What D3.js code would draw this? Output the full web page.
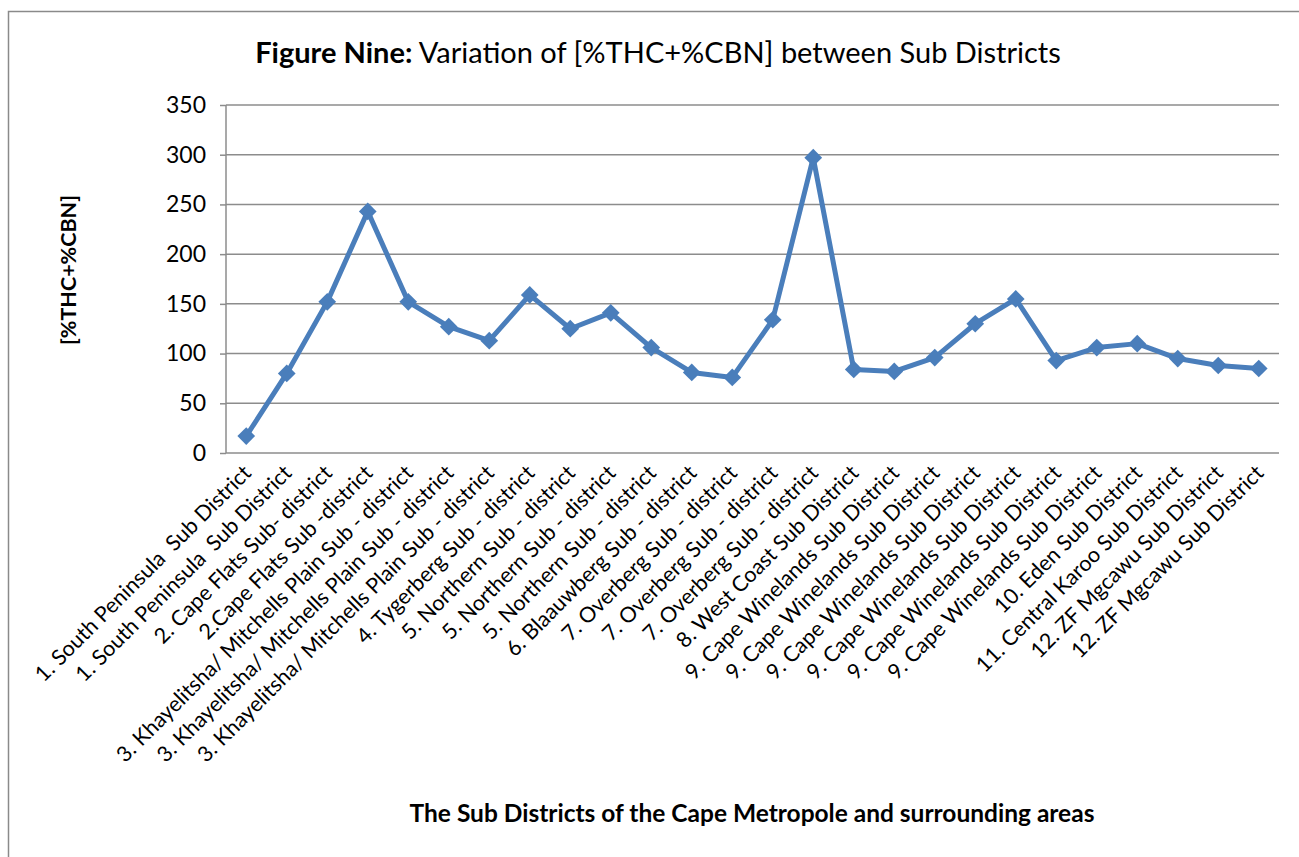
<!DOCTYPE html>
<html>
<head>
<meta charset="utf-8">
<script src="https://cdnjs.cloudflare.com/ajax/libs/d3/7.8.5/d3.min.js"></script>
<style>
  body { margin: 0; background: #fff; }
  svg { display: block; font-family: Lato, "Open Sans", sans-serif; }
</style>
</head>
<body>
<svg id="chart" width="1299" height="857"></svg>
<script>
'use strict';

// sub districts (x categories)
const districts = [
    "1. South Peninsula\u00a0 Sub District",
    "1. South Peninsula\u00a0 Sub District",
    "2. Cape Flats Sub- district",
    "2.Cape Flats Sub -district",
    "3. Khayelitsha/ Mitchells Plain Sub - district",
    "3. Khayelitsha/ Mitchells Plain Sub - district",
    "3. Khayelitsha/ Mitchells Plain Sub - district",
    "4. Tygerberg Sub - district",
    "5. Northern Sub - district",
    "5. Northern Sub - district",
    "5. Northern Sub - district",
    "6. Blaauwberg Sub - district",
    "7. Overberg Sub - district",
    "7. Overberg Sub - district",
    "7. Overberg Sub - district",
    "8. West Coast Sub District",
    "9. Cape Winelands Sub District",
    "9. Cape Winelands Sub District",
    "9. Cape Winelands Sub District",
    "9. Cape Winelands Sub District",
    "9. Cape Winelands Sub District",
    "9. Cape Winelands Sub District",
    "10. Eden Sub District",
    "11. Central Karoo Sub District",
    "12. ZF Mgcawu Sub District",
    "12. ZF Mgcawu Sub District"
];

// [%THC+%CBN] per sample
const values = [17, 80, 152, 243, 152, 127, 113, 159, 125, 141, 106, 81, 76,
                134, 297, 84, 82, 96, 130, 155, 93, 106, 110, 95, 88, 85];

const yTicks = [0, 50, 100, 150, 200, 250, 300, 350];

const titleBold = "Figure Nine:";
const titleRest = " Variation of [%THC+%CBN] between Sub Districts";
const yTitle = "[%THC+%CBN]";
const xTitle = "The Sub Districts of the Cape Metropole and surrounding areas";

(function () {
    const svg = d3.select("#chart");
    const blue = "#4a7ebb";
    const grid = "#8c8c8c";

    // outer frame
    svg.append("rect")
        .attr("x", 8.5).attr("y", 11.5)
        .attr("width", 1310).attr("height", 870)
        .attr("fill", "none")
        .attr("stroke", "#8a8a8a")
        .attr("stroke-width", 1.5);

    const left = 226, right = 1279, top = 105, bottom = 453;

    const x = d3.scalePoint()
        .domain(d3.range(districts.length))
        .range([left, right])
        .padding(0.5);

    const y = d3.scaleLinear()
        .domain([0, 350])
        .range([bottom, top]);

    // gridlines + y ticks
    const yAxis = svg.append("g")
        .attr("transform", "translate(" + left + ",0)")
        .call(d3.axisLeft(y).tickValues(yTicks).tickSize(6).tickPadding(14));
    yAxis.select(".domain").remove();
    yAxis.selectAll(".tick line").attr("stroke", grid).attr("stroke-width", 1.5);
    yAxis.selectAll(".tick text")
        .attr("fill", "#000")
        .style("font-size", "23px")
        .style("font-family", "Lato, sans-serif");

    svg.append("g")
        .selectAll("line")
        .data(yTicks)
        .enter()
        .append("line")
            .attr("x1", left).attr("x2", right)
            .attr("y1", d => y(d)).attr("y2", d => y(d))
            .attr("stroke", grid)
            .attr("stroke-width", 1.5);

    // vertical axis line
    svg.append("line")
        .attr("x1", left).attr("x2", left)
        .attr("y1", top).attr("y2", bottom)
        .attr("stroke", grid)
        .attr("stroke-width", 1.5);

    // category labels, rotated
    svg.append("g")
        .selectAll("text")
        .data(districts)
        .enter()
        .append("text")
            .attr("transform", (d, i) => "translate(" + (x(i) + 1) + ",469) rotate(-45)")
            .attr("text-anchor", "end")
            .attr("dy", "0.35em")
            .style("font-size", "21.5px")
            .text(d => d);

    // the line
    const line = d3.line()
        .x((d, i) => x(i))
        .y(d => y(d));
    svg.append("path")
        .datum(values)
        .attr("d", line)
        .attr("fill", "none")
        .attr("stroke", blue)
        .attr("stroke-width", 5)
        .attr("stroke-linejoin", "round");

    // diamond markers
    svg.append("g")
        .selectAll("path")
        .data(values)
        .enter()
        .append("path")
            .attr("transform", (d, i) => "translate(" + x(i) + "," + y(d) + ")")
            .attr("d", d3.symbol().type(d3.symbolDiamond2).size(200))
            .attr("fill", blue);

    // title
    const title = svg.append("text")
        .attr("x", 658).attr("y", 63)
        .attr("text-anchor", "middle")
        .style("font-size", "29px");
    title.append("tspan").style("font-weight", "bold").text(titleBold);
    title.append("tspan").text(titleRest);

    // axis titles
    svg.append("text")
        .attr("transform", "translate(76,270) rotate(-90)")
        .attr("text-anchor", "middle")
        .style("font-size", "21.5px")
        .style("font-weight", "bold")
        .text(yTitle);

    svg.append("text")
        .attr("x", 752).attr("y", 822)
        .attr("text-anchor", "middle")
        .style("font-size", "24.5px")
        .style("font-weight", "bold")
        .text(xTitle);
})();
</script>
</body>
</html>
